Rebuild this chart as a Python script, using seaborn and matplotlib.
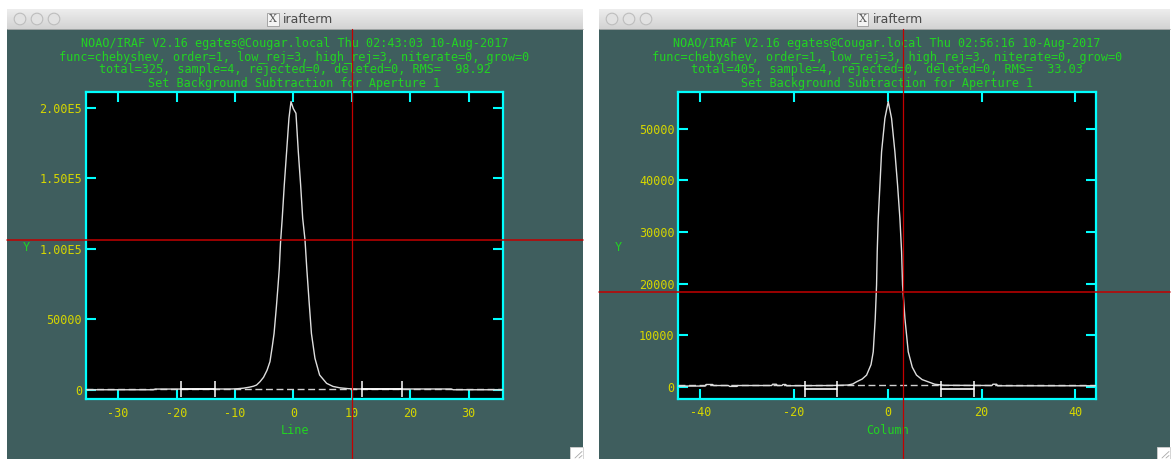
import matplotlib
matplotlib.use("Agg")
import numpy as np
import matplotlib.pyplot as plt
import matplotlib.patches as mpatches
from matplotlib.lines import Line2D
from matplotlib.transforms import blended_transform_factory
import seaborn as sns

# ---------------- data ----------------
# Aperture profile along the dispersion-perpendicular cut (left terminal: "Line")
line_pos = [-35.5, -24.0, -23.6, -16.0, -10.5, -9.5, -8.5, -7.5, -6.8, -6.3,
            -5.7, -5.1, -4.5, -4.0, -3.6, -3.3, -2.9, -2.6, -2.4, -2.2,
            -1.9, -1.55, -1.15, -0.75, -0.4, 0.0, 0.45, 0.85, 1.25, 1.6,
            2.0, 2.3, 2.7, 3.1, 3.7, 4.5, 5.7, 6.8, 8.0, 9.5,
            11.0, 27.0, 27.4, 35.9]
line_counts = [150, 150, 650, 650, 700, 900, 1300, 2000, 2700, 3500,
               5900, 9000, 14000, 20100, 31000, 40000, 59000, 75000, 86300, 104000,
               121800, 145400, 169000, 192700, 204500, 199500, 196200, 169000, 145400, 121800,
               106400, 86300, 62600, 40000, 22500, 10600, 4700, 2500, 1500, 900,
               700, 700, 150, 150]

# Aperture profile across columns (right terminal: "Column")
col_pos = [-44.7, -39.0, -38.8, -37.4, -37.2, -34.0, -33.8, -32.2, -32.0, -24.8,
           -24.6, -23.8, -23.6, -22.6, -22.4, -21.8, -21.6, -12.0, -8.5, -7.5,
           -6.7, -5.5, -4.55, -3.6, -3.13, -2.7, -2.42, -2.28, -2.06, -1.7,
           -1.35, -0.64, 0.07, 0.78, 1.49, 2.06, 2.56, 2.92, 3.13, 3.63,
           4.34, 5.2, 6.1, 7.3, 8.6, 10.0, 12.0, 22.2, 22.4, 23.2,
           23.4, 44.4]
col_counts = [150, 150, 450, 450, 250, 250, 80, 80, 250, 250,
              500, 500, 250, 250, 450, 450, 200, 250, 350, 550,
              970, 1500, 2270, 4300, 6780, 13250, 19710, 26160, 32630, 39090,
              45540, 52000, 55230, 52000, 45540, 39090, 32630, 26160, 19710, 13250,
              6780, 3800, 2270, 1400, 970, 500, 300, 250, 500, 500,
              200, 200]

# Background fits (order-1 chebyshev -> constant level)
line_fit = 500
col_fit = 450

# Background sample regions
line_samples = [(-19.3, -13.4), (11.7, 18.6)]
col_samples = [(-17.6, -10.8), (11.3, 18.3)]
line_sample_level = 900
col_sample_level = -350

# Graphics cursor positions
line_cursor = (10.0, 106400)
col_cursor = (3.3, 18400)

line_xlim = (-35.5, 35.9)
line_ylim = (-6400, 211300)
col_xlim = (-44.7, 44.4)
col_ylim = (-2300, 57100)

line_xticks = [-30, -20, -10, 0, 10, 20, 30]
line_yticks = [0, 50000, 100000, 150000, 200000]
line_ytick_labels = ["0", "50000", "1.00E5", "1.50E5", "2.00E5"]
col_xticks = [-40, -20, 0, 20, 40]
col_yticks = [0, 10000, 20000, 30000, 40000, 50000]
col_ytick_labels = ["0", "10000", "20000", "30000", "40000", "50000"]

line_header = [
    "NOAO/IRAF V2.16 egates@Cougar.local Thu 02:43:03 10-Aug-2017",
    "func=chebyshev, order=1, low_rej=3, high_rej=3, niterate=0, grow=0",
    "total=325, sample=4, rejected=0, deleted=0, RMS=  98.92",
    "Set Background Subtraction for Aperture 1",
]
col_header = [
    "NOAO/IRAF V2.16 egates@Cougar.local Thu 02:56:16 10-Aug-2017",
    "func=chebyshev, order=1, low_rej=3, high_rej=3, niterate=0, grow=0",
    "total=405, sample=4, rejected=0, deleted=0, RMS=  33.03",
    "Set Background Subtraction for Aperture 1",
]

# ---------------- style ----------------
sns.set_style("ticks")
plt.rcParams["font.family"] = ["DejaVu Sans Mono"]
plt.rcParams["axes.unicode_minus"] = False

W, H = 1174, 459
TEAL = "#3f5e5e"
GREEN = "#22d422"
YELLOW = "#d6d600"
CYAN = "#00ffff"
RED = "#c40000"
TEXTSZ = 8.5

fig = plt.figure(figsize=(W / 100, H / 100), dpi=100)
fig.patch.set_facecolor("white")

# pixel-space canvas for the terminal windows
bg = fig.add_axes([0, 0, 1, 1], zorder=-10)
bg.set_xlim(0, W)
bg.set_ylim(H, 0)
bg.axis("off")

TOP_BAR, TEAL_TOP = 9, 29
grad = np.linspace(0, 1, 32).reshape(-1, 1)
bar_cmap = matplotlib.colors.LinearSegmentedColormap.from_list("bar", ["#ededed", "#d3d3d3"])


def draw_window(x0, x1, plot_center, header):
    bg.imshow(grad, extent=(x0, x1, TEAL_TOP, TOP_BAR), cmap=bar_cmap,
              aspect="auto", zorder=1)
    bg.plot([x0, x1], [TEAL_TOP - 0.5, TEAL_TOP - 0.5], color="#b0b0b0", lw=0.6, zorder=2)
    bg.add_patch(mpatches.Rectangle((x0, TEAL_TOP), x1 - x0, H - TEAL_TOP,
                                    facecolor=TEAL, edgecolor="none", zorder=1))
    for cx in (x0 + 13, x0 + 30, x0 + 47):
        bg.add_patch(mpatches.Circle((cx, 19), 5.8, facecolor="#e2e2e2",
                                     edgecolor="#bdbdbd", lw=0.8, zorder=3))
    wc = (x0 + x1) / 2
    bg.text(wc - 22, 19.5, "X", ha="center", va="center", fontsize=8,
            family="DejaVu Serif", color="#555555", zorder=3,
            bbox=dict(boxstyle="square,pad=0.15", fc="#f4f4f4", ec="#9a9a9a", lw=0.6))
    bg.text(wc - 12, 19.5, "irafterm", ha="left", va="center", fontsize=9,
            family="DejaVu Sans", color="#4a4a4a", zorder=3)
    for i, txt in enumerate(header):
        bg.text(plot_center, 44 + 13 * i, txt, ha="center", va="center",
                fontsize=TEXTSZ, color=GREEN, zorder=3)
    # resize grip
    bg.add_patch(mpatches.Rectangle((x1 - 13, H - 12), 13, 12, facecolor="white",
                                    edgecolor="#cfcfcf", lw=0.6, zorder=3))
    for d in (4, 8):
        bg.plot([x1 - d, x1 - 1], [H - 1, H - d + 0.5], color="#a8a8a8", lw=0.6, zorder=4)
    return x0, x1


def draw_plot(rect, win, pos, counts, fit, samples, sample_level, cursor,
              xlim, ylim, xticks, yticks, ylabels, xlabel):
    ax = fig.add_axes(rect)
    ax.set_facecolor("black")
    ax.set_xlim(*xlim)
    ax.set_ylim(*ylim)
    # fitted background
    ax.plot(list(xlim), [fit, fit], color="#d0d0d0", lw=1.0, ls=(0, (5, 2.6)), zorder=2)
    # profile
    sns.lineplot(x=pos, y=counts, ax=ax, color="#dedede", lw=1.0,
                 estimator=None, sort=False, zorder=3)
    # sample regions
    for a, b in samples:
        ax.plot([a, b], [sample_level, sample_level], color="white", lw=1.2, zorder=4)
        ax.plot([a, b], [sample_level, sample_level], ls="none", marker="|",
                ms=11, mew=1.1, color="white", zorder=4)
    ax.set_xticks(xticks)
    ax.set_yticks(yticks)
    ax.set_yticklabels(ylabels)
    ax.tick_params(direction="in", length=7.2, width=1.5, color=CYAN,
                   top=True, right=True, labelcolor=YELLOW, labelsize=TEXTSZ)
    ax.tick_params(axis="x", pad=5.5)
    ax.tick_params(axis="y", pad=2.8)
    for sp in ax.spines.values():
        sp.set_color(CYAN)
        sp.set_linewidth(1.6)
        sp.set_visible(True)
    ax.set_xlabel(xlabel, color=GREEN, fontsize=TEXTSZ, labelpad=3)
    ax.set_ylabel("Y", color=GREEN, fontsize=TEXTSZ, rotation=0, ha="center", va="center")
    ax.yaxis.set_label_coords(-0.144, 0.493)
    ax.grid(False)

    # crosshair cursor spanning the whole terminal
    x0, x1 = win
    vtr = blended_transform_factory(ax.transData, fig.transFigure)
    htr = blended_transform_factory(fig.transFigure, ax.transData)
    fig.add_artist(Line2D([cursor[0], cursor[0]], [0, (H - TEAL_TOP) / H],
                          transform=vtr, color=RED, lw=0.9, zorder=20))
    fig.add_artist(Line2D([x0 / W, x1 / W], [cursor[1], cursor[1]],
                          transform=htr, color=RED, lw=1.1, zorder=20))
    return ax


left_win = draw_window(7, 583, 294.5, line_header)
right_win = draw_window(599, 1170, 887.2, col_header)

draw_plot([86 / W, (H - 399) / H, (503 - 86) / W, (399 - 92) / H], left_win,
          line_pos, line_counts, line_fit, line_samples, line_sample_level, line_cursor,
          line_xlim, line_ylim, line_xticks, line_yticks, line_ytick_labels, "Line")
draw_plot([678.4 / W, (H - 398.7) / H, (1096 - 678.4) / W, (398.7 - 92) / H], right_win,
          col_pos, col_counts, col_fit, col_samples, col_sample_level, col_cursor,
          col_xlim, col_ylim, col_xticks, col_yticks, col_ytick_labels, "Column")

fig.savefig("out.png", dpi=100, facecolor=fig.get_facecolor())
